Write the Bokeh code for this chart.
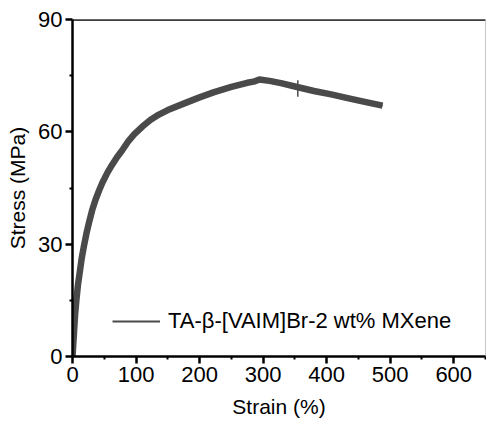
from bokeh.plotting import figure
from bokeh.models import Range1d, Legend, LegendItem, FixedTicker, Span
from bokeh.embed import file_html
from bokeh.resources import INLINE

# Data (strain %, stress MPa)
strain = [0, 1, 2.4, 4, 6, 8.5, 11.3, 14.5, 18, 22, 26, 31, 36.5, 42, 47, 55,
          62.7, 70, 78, 87, 97, 110, 123, 136, 150, 176, 200, 223, 250, 275,
          285, 294, 310, 328, 355, 380, 407, 433, 460, 488]
stress = [0, 2.8, 6.5, 11, 14.9, 19, 22.4, 26.2, 29.5, 32.9, 35.8, 39.1, 42,
          44.4, 46.4, 49.1, 51.3, 53.2, 55, 57.3, 59.3, 61.4, 63.2, 64.6, 65.8,
          67.6, 69.2, 70.6, 72, 73.1, 73.4, 74, 73.6, 73, 71.9, 70.9, 70, 69,
          68, 67]
spike_x = [354.6, 354.6]
spike_y = [69.4, 73.8]
series_name = "TA-\u03b2-[VAIM]Br-2 wt% MXene"
x_ticks = [0, 100, 200, 300, 400, 500, 600]
x_minor = [50, 150, 250, 350, 450, 550, 650]
y_ticks = [0, 30, 60, 90]
y_minor = [15, 45, 75]

FONT = "Liberation Sans"
COLOR = "#4a4a4a"

p = figure(width=486, height=428, output_backend="svg", toolbar_location=None,
           x_range=Range1d(0, 650), y_range=Range1d(0, 90),
           min_border_left=72, min_border_right=1, min_border_top=19,
           min_border_bottom=72)
p.grid.visible = False
p.outline_line_color = "#c8c8c8"
p.outline_line_width = 1
p.background_fill_color = "white"

p.line(strain, stress, line_color=COLOR, line_width=6.5, line_join="round")
legend_line = p.line(strain, stress, line_color=COLOR, line_width=2)
p.line(spike_x, spike_y, line_color=COLOR, line_width=1.5)

p.add_layout(Span(location=y_ticks[-1], dimension="width", line_color="black",
                  line_width=2.5))

legend = Legend(items=[LegendItem(label=series_name, renderers=[legend_line])],
                location=(40, 22), border_line_color=None,
                background_fill_alpha=0, padding=0, margin=0,
                glyph_width=48, label_standoff=8,
                label_text_font=FONT, label_text_font_size="22px",
                label_text_color="black")
p.add_layout(legend, "center")

for ax in (p.xaxis[0], p.yaxis[0]):
    ax.axis_line_width = 2.5
    ax.axis_line_color = "black"
    ax.major_tick_line_width = 2.5
    ax.minor_tick_line_width = 2
    ax.major_tick_out = 7
    ax.major_tick_in = 0
    ax.minor_tick_out = 3
    ax.minor_tick_in = 0
    ax.major_label_text_font = FONT
    ax.major_label_text_font_size = "22px"
    ax.major_label_text_color = "black"
    ax.axis_label_text_font = FONT
    ax.axis_label_text_font_size = "21px"
    ax.axis_label_text_font_style = "normal"
    ax.axis_label_text_color = "black"

p.xaxis[0].ticker = FixedTicker(ticks=x_ticks, minor_ticks=x_minor)
p.yaxis[0].ticker = FixedTicker(ticks=y_ticks, minor_ticks=y_minor)
p.xaxis[0].axis_label = "Strain (%)"
p.yaxis[0].axis_label = "Stress (MPa)"
p.xaxis[0].major_label_standoff = 3
p.yaxis[0].major_label_standoff = 3
p.xaxis[0].axis_label_standoff = 10
p.yaxis[0].axis_label_standoff = 6

open("out.html", "w").write(file_html(p, INLINE))
